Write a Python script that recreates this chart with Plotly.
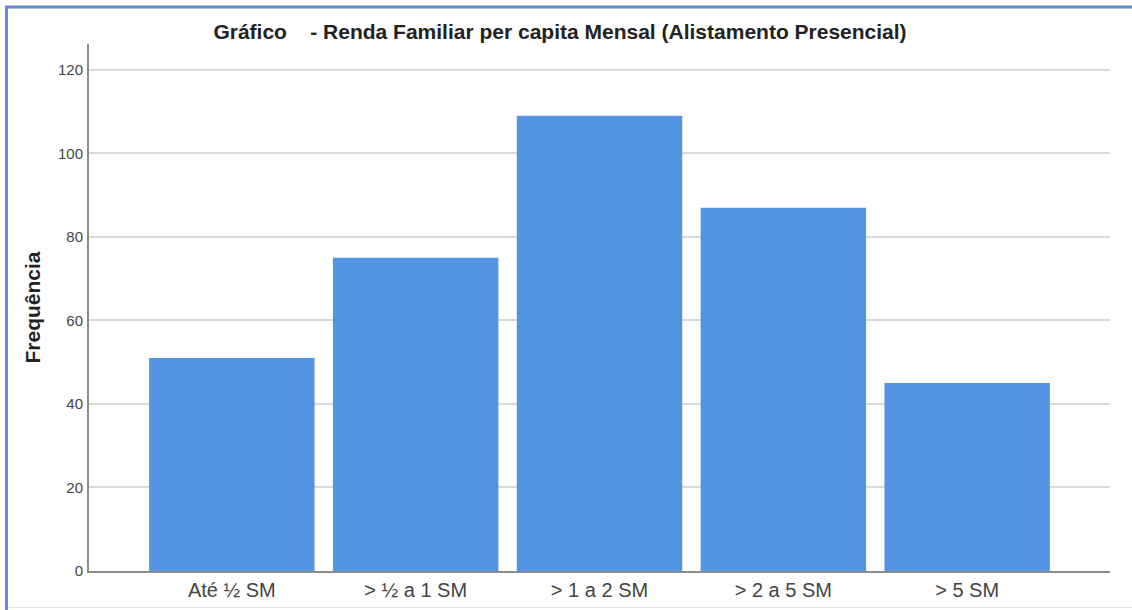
import plotly.graph_objects as go

categories = ["Até ½ SM", "> ½ a 1 SM", "> 1 a 2 SM", "> 2 a 5 SM", "> 5 SM"]
frequencies = [51, 75, 109, 87, 45]
y_ticks = [0, 20, 40, 60, 80, 100, 120]

W, H = 1132, 610
L, R, T, B = 89, 22, 44, 39
plot_w = W - L - R
plot_h = H - T - B


def px_x(px):
    return (px - L) / plot_w


def px_y(py):
    return (H - B - py) / plot_h


fig = go.Figure(
    go.Bar(
        x=list(range(len(categories))),
        y=frequencies,
        width=0.9,
        marker=dict(color="#5495e3", line=dict(width=0)),
        hoverinfo="x+y",
    )
)

shapes = [
    # frame around the chart
    dict(type="line", xref="paper", yref="paper", x0=px_x(5), x1=px_x(W + 2),
         y0=px_y(7), y1=px_y(7), line=dict(color="#5f8bd8", width=3)),
    dict(type="line", xref="paper", yref="paper", x0=px_x(6.5), x1=px_x(6.5),
         y0=px_y(6), y1=px_y(H + 2), line=dict(color="#5f8bd8", width=3)),
    dict(type="line", xref="paper", yref="paper", x0=px_x(8), x1=px_x(W),
         y0=px_y(607.5), y1=px_y(607.5), line=dict(color="#e4e4e4", width=1)),
]

fig.update_layout(
    width=W,
    height=H,
    margin=dict(l=L, r=R, t=T, b=B, autoexpand=False),
    paper_bgcolor="white",
    plot_bgcolor="white",
    showlegend=False,
    bargap=0.1,
    font=dict(family="Liberation Sans, Arial, sans-serif", color="#333333"),
    title=dict(
        text="<b>Gráfico\u00a0\u00a0\u00a0 - Renda Familiar per capita Mensal (Alistamento Presencial)</b>",
        x=560 / W,
        xanchor="center",
        y=1 - 32 / H,
        yanchor="middle",
        font=dict(size=21, color="#222222"),
    ),
    xaxis=dict(
        tickmode="array",
        tickvals=list(range(len(categories))),
        ticktext=categories,
        range=[-0.777, 4.777],
        showgrid=False,
        zeroline=False,
        showline=True,
        linecolor="#8c8c8c",
        linewidth=2,
        ticks="",
        tickfont=dict(size=20, color="#444444"),
        fixedrange=True,
    ),
    yaxis=dict(
        range=[0, 126.2],
        tickmode="array",
        tickvals=y_ticks,
        showgrid=True,
        gridcolor="#d9d9d9",
        gridwidth=2,
        zeroline=False,
        showline=True,
        linecolor="#8c8c8c",
        linewidth=2,
        ticks="",
        ticklabelstandoff=1,
        tickfont=dict(size=15, color="#444444"),
        title=dict(text="<b>Frequência</b>", font=dict(size=21, color="#222222"), standoff=12),
        fixedrange=True,
    ),
    shapes=shapes,
)

fig.write_html("out.html")
